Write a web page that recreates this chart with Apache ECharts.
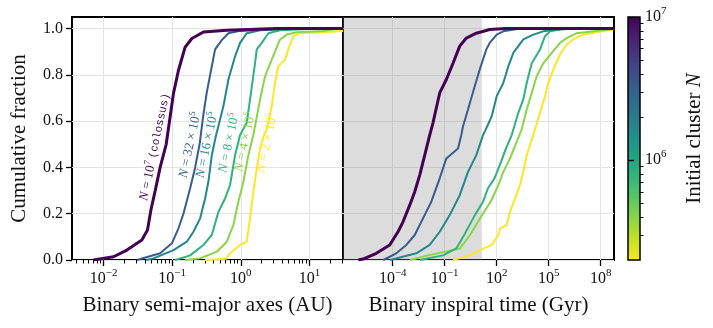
<!DOCTYPE html>
<html>
<head>
<meta charset="utf-8">
<script src="https://cdn.jsdelivr.net/npm/echarts@6/dist/echarts.min.js"></script>
<style>
  html, body { margin: 0; padding: 0; background: #fff; }
  #main { width: 713px; height: 328px; }
</style>
</head>
<body>
<div id="main"></div>
<script>
  // ---- line colours (viridis_r over log N, N from 2e5 to 1e7) ----
  const lineColors = ['#fde725', '#89d548', '#2eb37c', '#24878e', '#365d8d', '#440154'];
  const lineWidths = [2, 2, 2, 2, 2, 3];

  // ---- left panel: binary semi-major axes (AU) vs cumulative fraction ----
  // order: N = 2e5, 4e5, 8e5, 16e5, 32e5, 1e7
  const semiA_200k = [0.302, 0.610, 0.698, 0.977, 1.222, 1.365, 1.524, 1.710, 1.910, 2.182, 2.388, 2.825, 3.155, 3.524, 4.416, 4.932, 5.83, 7.30, 15.9, 31];
  const semiF_200k = [0, 0.005, 0.029, 0.065, 0.079, 0.18, 0.295, 0.396, 0.482, 0.54, 0.564, 0.665, 0.765, 0.837, 0.866, 0.91, 0.967, 0.98, 0.984, 0.99];
  const semiA_400k = [0.1545, 0.2559, 0.4477, 0.6252, 0.7798, 0.9226, 1.0914, 1.291, 1.524, 1.614, 1.910, 2.26, 2.825, 3.733, 4.677, 6.53, 15.9, 27.9, 31];
  const semiF_400k = [0, 0.007, 0.036, 0.079, 0.151, 0.252, 0.338, 0.453, 0.54, 0.578, 0.694, 0.794, 0.866, 0.953, 0.974, 0.984, 0.99, 1.0, 1.0];
  const semiA_800k = [0.1107, 0.1828, 0.2858, 0.3784, 0.4721, 0.5902, 0.6982, 0.826, 0.977, 1.222, 1.365, 1.614, 1.710, 2.023, 2.523, 3.733, 14.2, 31];
  const semiF_800k = [0, 0.02, 0.065, 0.108, 0.208, 0.266, 0.324, 0.453, 0.54, 0.593, 0.694, 0.85, 0.91, 0.938, 0.98, 0.993, 1.0, 1.0];
  const semiA_1600k = [0.0419, 0.0535, 0.1045, 0.1637, 0.2042, 0.2559, 0.302, 0.3373, 0.3784, 0.4365, 0.4721, 0.5585, 0.6601, 0.826, 0.977, 1.222, 1.910, 7.30, 31];
  const semiF_1600k = [0, 0.007, 0.043, 0.079, 0.122, 0.18, 0.266, 0.338, 0.453, 0.54, 0.578, 0.665, 0.78, 0.88, 0.938, 0.98, 0.993, 1.0, 1.0];
  const semiA_3200k = [0.0306, 0.0668, 0.0991, 0.1236, 0.1459, 0.1828, 0.2163, 0.2512, 0.2825, 0.3177, 0.3631, 0.4223, 0.5284, 0.6601, 0.977, 5.22, 31];
  const semiF_3200k = [0, 0.029, 0.072, 0.137, 0.20, 0.31, 0.40, 0.50, 0.62, 0.72, 0.81, 0.91, 0.95, 0.98, 0.99, 1.0, 1.0];
  const semiA_10M = [0.00714, 0.014, 0.0219, 0.0362, 0.0437, 0.049, 0.0566, 0.0668, 0.0818, 0.0935, 0.1045, 0.1236, 0.1545, 0.1936, 0.2858, 0.625, 3.34, 31];
  const semiF_10M = [0, 0.014, 0.043, 0.086, 0.13, 0.216, 0.30, 0.40, 0.50, 0.62, 0.72, 0.82, 0.92, 0.957, 0.985, 0.993, 1.0, 1.0];

  // ---- right panel: binary inspiral time (Gyr) vs cumulative fraction ----
  const tInsp_200k = [0.302, 2.77, 10.9, 51.6, 124, 156, 378, 586, 1140, 2218, 3436, 5395, 1.30e4, 1.63e4, 3.16e4, 6.14e4, 9.53e4, 1.85e5, 4.51e5, 1.10e6, 3.30e6, 1.0e7, 5.92e7, 2.23e8, 5.37e8];
  const tFrac_200k = [0, 0.02, 0.043, 0.065, 0.108, 0.137, 0.151, 0.208, 0.266, 0.324, 0.381, 0.453, 0.54, 0.564, 0.636, 0.708, 0.765, 0.823, 0.888, 0.931, 0.959, 0.974, 0.984, 0.993, 0.996];
  const tInsp_400k = [9.95e-4, 0.01089, 0.764, 2.88, 13.3, 47.0, 119, 241, 586, 1429, 2780, 5395, 1.05e4, 2.04e4, 4.90e4, 1.50e5, 4.51e5, 1.10e6, 4.14e6, 3.76e7, 3.46e8, 5.8e8];
  const tFrac_400k = [0, 0.02, 0.05, 0.108, 0.19, 0.255, 0.32, 0.381, 0.439, 0.51, 0.564, 0.65, 0.722, 0.794, 0.85, 0.895, 0.938, 0.959, 0.98, 0.988, 0.996, 0.998];
  const tInsp_800k = [3.76e-3, 0.0798, 0.468, 1.49, 5.61, 16.3, 31.6, 74.8, 177, 345, 736, 910, 1770, 3436, 5395, 1.05e4, 3.16e4, 6.14e4, 1.19e5, 4.51e5, 3.2e6, 5.8e8];
  const tFrac_800k = [0, 0.02, 0.05, 0.115, 0.195, 0.252, 0.31, 0.353, 0.424, 0.482, 0.54, 0.564, 0.636, 0.694, 0.765, 0.85, 0.91, 0.967, 0.988, 0.996, 1.0, 1.0];
  const tInsp_1600k = [6.98e-5, 2.30e-3, 0.01365, 0.0515, 0.1945, 0.735, 2.21, 6.67, 16.3, 21.2, 51.6, 100, 241, 469, 910, 3436, 1.30e4, 4.90e4, 2.90e5, 1.6e6, 5.8e8];
  const tFrac_1600k = [0, 0.029, 0.065, 0.122, 0.194, 0.28, 0.381, 0.453, 0.54, 0.557, 0.621, 0.708, 0.765, 0.837, 0.895, 0.953, 0.974, 0.988, 0.996, 1.0, 1.0];
  const tInsp_3200k = [2.87e-5, 1.61e-4, 6.10e-4, 1.86e-3, 5.60e-3, 0.01687, 0.0515, 0.124, 0.586, 0.908, 1.14, 2.21, 5.40, 10.5, 25.2, 39.5, 100, 241, 2218, 5.8e8];
  const tFrac_3200k = [0, 0.029, 0.065, 0.108, 0.18, 0.252, 0.353, 0.439, 0.482, 0.54, 0.578, 0.65, 0.751, 0.823, 0.91, 0.938, 0.974, 0.988, 1.0, 1.0];
  const tInsp_10M = [1.035e-6, 1.93e-6, 1.13e-5, 6.71e-5, 2.02e-4, 3.93e-4, 9.57e-4, 1.86e-3, 3.61e-3, 7.03e-3, 0.01365, 0.0211, 0.0515, 0.124, 0.302, 0.735, 1.77, 6.67, 39.5, 316, 5.8e8];
  const tFrac_10M = [0, 0.004, 0.029, 0.065, 0.122, 0.165, 0.237, 0.295, 0.367, 0.453, 0.54, 0.593, 0.722, 0.78, 0.85, 0.924, 0.959, 0.98, 0.996, 1.0, 1.0];

  // Hubble time (Gyr), end of the grey band
  const hubbleTime = 13.8;

  // ---- axis ticks ----
  const fracTicks = [0, 0.2, 0.4, 0.6, 0.8, 1.0];
  const semiMajorTicks = [0.01, 0.1, 1, 10];
  const semiMinorTicks = [0.004, 0.005, 0.006, 0.007, 0.008, 0.009,
    0.02, 0.03, 0.04, 0.05, 0.06, 0.07, 0.08, 0.09,
    0.2, 0.3, 0.4, 0.5, 0.6, 0.7, 0.8, 0.9,
    2, 3, 4, 5, 6, 7, 8, 9, 20, 30];
  const timeTicks = [1e-4, 1e-1, 1e2, 1e5, 1e8];
  const cbarMajorTicks = [1e6, 1e7];
  const cbarMinorTicks = [3e5, 4e5, 5e5, 6e5, 7e5, 8e5, 9e5, 2e6, 3e6, 4e6, 5e6, 6e6, 7e6, 8e6, 9e6];

  // curve tags in the left panel
  const curveTags = [
    '{i|N}{t| = 2 × 10}{s|5}',
    '{i|N}{t| = 4 × 10}{s|5}',
    '{i|N}{t| = 8 × 10}{s|5}',
    '{i|N}{t| = 16 × 10}{s|5}',
    '{i|N}{t| = 32 × 10}{s|5}',
    '{i|N}{t| = 10}{s|7}{t| }{m|(colossus)}'
  ];
  const tagPos = [[267, 143], [245, 142], [229, 143], [207, 145], [190, 145], [155, 147]];

  const FONT = "'Liberation Serif', 'DejaVu Serif', serif";
  const TXT = '#111';

  const leftMin = Math.pow(10, -2.46), leftMax = Math.pow(10, 1.49);
  const rightMin = Math.pow(10, -6.87), rightMax = Math.pow(10, 8.77);

  const viridisStops = ['#440154', '#482475', '#414487', '#355f8d', '#2a788e', '#21918c',
    '#22a884', '#44bf70', '#7ad151', '#bddf26', '#fde725'];

  function pairs(xs, ys) { return xs.map((x, i) => [x, ys[i]]); }

  function powLabel(v) {
    const e = Math.round(Math.log10(v));
    return '{b|10}{s|' + (e < 0 ? '\u2212' + (-e) : e) + '}';
  }

  const supRich = {
    b: { fontFamily: FONT, fontSize: 16, lineHeight: 22, color: TXT },
    s: { fontFamily: FONT, fontSize: 11, lineHeight: 12, verticalAlign: 'top', color: TXT }
  };

  const tickStyle = { color: '#000', width: 1.3 };
  const gridLine = { show: true, lineStyle: { color: '#e4e4e4', width: 1 } };

  const leftSets = [
    [semiA_200k, semiF_200k], [semiA_400k, semiF_400k], [semiA_800k, semiF_800k],
    [semiA_1600k, semiF_1600k], [semiA_3200k, semiF_3200k], [semiA_10M, semiF_10M]
  ];
  const rightSets = [
    [tInsp_200k, tFrac_200k], [tInsp_400k, tFrac_400k], [tInsp_800k, tFrac_800k],
    [tInsp_1600k, tFrac_1600k], [tInsp_3200k, tFrac_3200k], [tInsp_10M, tFrac_10M]
  ];

  const series = [];
  leftSets.forEach((s, i) => {
    series.push({
      type: 'line', xAxisIndex: 0, yAxisIndex: 0,
      data: pairs(s[0], s[1]),
      showSymbol: false, symbol: 'none', clip: true,
      lineStyle: { color: lineColors[i], width: lineWidths[i] },
      z: 3 + i
    });
  });
  rightSets.forEach((s, i) => {
    const ser = {
      type: 'line', xAxisIndex: 2, yAxisIndex: 1,
      data: pairs(s[0], s[1]),
      showSymbol: false, symbol: 'none', clip: true,
      lineStyle: { color: lineColors[i], width: lineWidths[i] },
      z: 3 + i
    };
    if (i === 0) {
      ser.markArea = {
        silent: true,
        itemStyle: { color: 'rgba(128,128,128,0.28)' },
        data: [[{ xAxis: rightMin }, { xAxis: hubbleTime }]]
      };
    }
    series.push(ser);
  });

  const graphics = curveTags.map((t, i) => ({
    type: 'text',
    x: tagPos[i][0], y: tagPos[i][1],
    rotation: 78 * Math.PI / 180,
    z: 50,
    style: {
      text: t,
      fill: lineColors[i],
      align: 'center', verticalAlign: 'middle',
      rich: {
        i: { fontFamily: FONT, fontSize: 13, fontStyle: 'italic', lineHeight: 17 },
        t: { fontFamily: FONT, fontSize: 13, lineHeight: 17 },
        s: { fontFamily: FONT, fontSize: 9, lineHeight: 10, verticalAlign: 'top' },
        m: { fontFamily: "'Liberation Mono', 'DejaVu Sans Mono', monospace", fontSize: 11, lineHeight: 17 }
      }
    }
  }));

  const chart = echarts.init(document.getElementById('main'), null, { renderer: 'canvas' });
  chart.setOption({
    animation: false,
    backgroundColor: '#fff',
    grid: [
      { left: 72, top: 17, width: 271, height: 243, show: true, borderColor: '#000', borderWidth: 2, backgroundColor: 'transparent' },
      { left: 343, top: 17, width: 271, height: 243, show: true, borderColor: '#000', borderWidth: 2, backgroundColor: 'transparent' },
      {
        left: 628, top: 17, width: 12, height: 243, show: true, borderColor: '#000', borderWidth: 1.5,
        backgroundColor: new echarts.graphic.LinearGradient(0, 0, 0, 1,
          viridisStops.map((c, k) => ({ offset: k / (viridisStops.length - 1), color: c })))
      }
    ],
    xAxis: [
      {
        type: 'log', logBase: 10, gridIndex: 0, min: leftMin, max: leftMax,
        axisLine: { show: false },
        axisTick: { show: true, customValues: semiMajorTicks, length: 6, lineStyle: tickStyle },
        axisLabel: { customValues: semiMajorTicks, formatter: powLabel, rich: supRich, margin: 8 },
        splitLine: gridLine,
        name: 'Binary semi-major axes (AU)', nameLocation: 'middle', nameGap: 35,
        nameTextStyle: { fontFamily: FONT, fontSize: 21, color: TXT }
      },
      {
        type: 'log', logBase: 10, gridIndex: 0, min: leftMin, max: leftMax, position: 'bottom',
        axisLine: { show: false },
        axisTick: { show: true, customValues: semiMinorTicks, length: 3.5, lineStyle: { color: '#000', width: 1 } },
        axisLabel: { show: false },
        splitLine: { show: false }
      },
      {
        type: 'log', logBase: 10, gridIndex: 1, min: rightMin, max: rightMax,
        axisLine: { show: false },
        axisTick: { show: true, customValues: timeTicks, length: 6, lineStyle: tickStyle },
        axisLabel: { customValues: timeTicks, formatter: powLabel, rich: supRich, margin: 8 },
        splitLine: gridLine,
        name: 'Binary inspiral time (Gyr)', nameLocation: 'middle', nameGap: 35,
        nameTextStyle: { fontFamily: FONT, fontSize: 21, color: TXT }
      },
      { type: 'value', gridIndex: 2, show: false, min: 0, max: 1 }
    ],
    yAxis: [
      {
        type: 'value', gridIndex: 0, min: 0, max: 1.05,
        axisLine: { show: false },
        axisTick: { show: true, customValues: fracTicks, length: 6, lineStyle: tickStyle },
        axisLabel: { customValues: fracTicks, formatter: v => v.toFixed(1), fontFamily: FONT, fontSize: 16, color: TXT, margin: 9 },
        splitLine: gridLine,
        name: 'Cumulative fraction', nameLocation: 'middle', nameGap: 42,
        nameTextStyle: { fontFamily: FONT, fontSize: 21, color: TXT }
      },
      {
        type: 'value', gridIndex: 1, min: 0, max: 1.05,
        axisLine: { show: false },
        axisTick: { show: false, customValues: fracTicks },
        axisLabel: { show: false },
        splitLine: gridLine
      },
      {
        type: 'log', logBase: 10, gridIndex: 2, min: 2e5, max: 1e7, position: 'right',
        axisLine: { show: false },
        axisTick: { show: true, customValues: cbarMajorTicks, length: 6, lineStyle: tickStyle },
        axisLabel: { customValues: cbarMajorTicks, formatter: powLabel, rich: supRich, margin: 5 },
        splitLine: { show: false },
        name: 'Initial cluster {i|N}', nameLocation: 'middle', nameRotate: 90, nameGap: 44,
        nameTextStyle: {
          fontFamily: FONT, fontSize: 21, color: TXT,
          rich: { i: { fontFamily: FONT, fontSize: 21, fontStyle: 'italic', color: TXT } }
        }
      },
      {
        type: 'log', logBase: 10, gridIndex: 2, min: 2e5, max: 1e7, position: 'right',
        axisLine: { show: false },
        axisTick: { show: true, customValues: cbarMinorTicks, length: 3.5, lineStyle: { color: '#000', width: 1 } },
        axisLabel: { show: false },
        splitLine: { show: false }
      }
    ],
    series: series,
    graphic: graphics
  });
</script>
</body>
</html>
